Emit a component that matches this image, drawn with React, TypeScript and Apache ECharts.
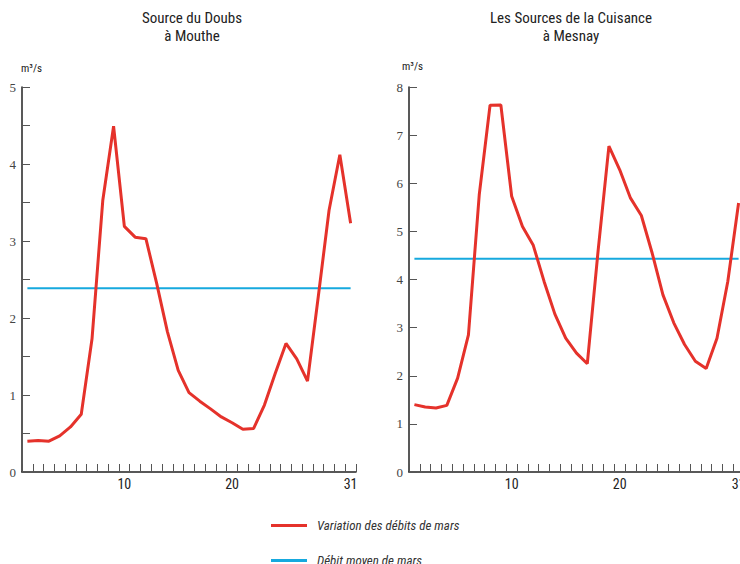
import React, { useEffect, useRef } from 'react';
import * as echarts from 'echarts';

const days = ['1','2','3','4','5','6','7','8','9','10','11','12','13','14','15','16','17','18','19','20','21','22','23','24','25','26','27','28','29','30','31'];
const shownDayLabels = ['10', '20', '31'];
const doubsFlow = [0.40, 0.41, 0.40, 0.47, 0.585, 0.75, 1.73, 3.53, 4.49, 3.19, 3.05, 3.03, 2.45, 1.82, 1.32, 1.03, 0.92, 0.82, 0.715, 0.64, 0.555, 0.565, 0.87, 1.28, 1.67, 1.47, 1.18, 2.28, 3.40, 4.12, 3.23];
const cuisanceFlow = [1.40, 1.35, 1.33, 1.385, 1.95, 2.85, 5.76, 7.62, 7.625, 5.73, 5.10, 4.71, 3.96, 3.28, 2.78, 2.47, 2.25, 4.6, 6.77, 6.28, 5.69, 5.33, 4.55, 3.68, 3.10, 2.65, 2.30, 2.15, 2.78, 3.96, 5.59];
const doubsMean = 2.385;
const cuisanceMean = 4.43;
const titles = ['Source du Doubs\nà Mouthe', 'Les Sources de la Cuisance\nà Mesnay'];
const seriesNames = ['Variation des débits de mars', 'Débit moyen de mars'];
const unitLabel = 'm³/s';

const NARROW = "'Liberation Sans Narrow', 'Roboto Condensed', 'DejaVu Sans Condensed', 'Arial Narrow', sans-serif";
const SERIF = "'Liberation Serif', 'DejaVu Serif', serif";
const RED = '#e5322b';
const BLUE = '#16a9de';

function xAxis(gridIndex: number) {
  return {
    type: 'category',
    gridIndex,
    data: days,
    boundaryGap: true,
    axisLine: { show: true, lineStyle: { color: '#222', width: 1.5 } },
    axisTick: { show: true, inside: true, length: 8, interval: 0, lineStyle: { color: '#555', width: 1 } },
    axisLabel: {
      interval: (_i: number, v: string) => shownDayLabels.includes(v),
      margin: 5,
      fontFamily: NARROW,
      fontSize: 14,
      color: '#222',
      hideOverlap: false,
    },
    splitLine: { show: false },
  };
}

function yAxis(gridIndex: number, max: number, interval: number) {
  return {
    type: 'value',
    gridIndex,
    min: 0,
    max,
    interval,
    axisLine: { show: true, lineStyle: { color: '#222', width: 1.5 } },
    axisTick: { show: true, inside: true, length: 8, lineStyle: { color: '#555', width: 1 } },
    axisLabel: {
      margin: 6,
      fontFamily: SERIF,
      fontSize: 13,
      color: '#444',
      formatter: (v: number) => (Number.isInteger(v) ? String(v) : ''),
    },
    splitLine: { show: false },
  };
}

export default function App() {
  const ref = useRef<HTMLDivElement>(null);
  useEffect(() => {
    if (!ref.current) return;
    const chart = echarts.init(ref.current, undefined, { renderer: 'svg' });
    const titleStyle = { fontFamily: NARROW, fontSize: 15, fontWeight: 'normal', color: '#222', lineHeight: 18, align: 'center' };
    const legendText = { fontFamily: NARROW, fontSize: 13, fontStyle: 'italic', color: '#333', padding: [0, 0, 0, 5] };
    chart.setOption({
      animation: false,
      title: [
        { text: titles[0], left: 192, top: 9, padding: 0, textAlign: 'center', textStyle: titleStyle },
        { text: titles[1], left: 571, top: 9, padding: 0, textAlign: 'center', textStyle: titleStyle },
      ],
      graphic: [
        { type: 'text', left: 21, top: 63, style: { text: unitLabel, font: `11px ${NARROW}`, fill: '#222' } },
        { type: 'text', left: 402, top: 61, style: { text: unitLabel, font: `11px ${NARROW}`, fill: '#222' } },
      ],
      legend: [
        {
          data: [seriesNames[0]], left: 266, top: 514, icon: 'rect', itemWidth: 36, itemHeight: 3,
          textStyle: legendText, selectedMode: false,
        },
        {
          data: [seriesNames[1]], left: 266, top: 549, icon: 'rect', itemWidth: 36, itemHeight: 3,
          textStyle: legendText, selectedMode: false,
          itemStyle: { color: BLUE },
        },
      ],
      grid: [
        { left: 22, top: 87, width: 334, height: 385 },
        { left: 409, top: 87, width: 335, height: 385 },
      ],
      xAxis: [xAxis(0), xAxis(1)],
      yAxis: [yAxis(0, 5, 0.5), yAxis(1, 8, 1)],
      series: [
        {
          name: seriesNames[1], type: 'line', xAxisIndex: 0, yAxisIndex: 0, symbol: 'none',
          data: [[days[0], doubsMean], [days[days.length - 1], doubsMean]],
          lineStyle: { color: BLUE, width: 2 }, itemStyle: { color: BLUE }, z: 2,
        },
        {
          name: seriesNames[0], type: 'line', xAxisIndex: 0, yAxisIndex: 0, symbol: 'none',
          data: doubsFlow,
          lineStyle: { color: RED, width: 3 }, itemStyle: { color: RED }, z: 3,
        },
        {
          name: seriesNames[1], type: 'line', xAxisIndex: 1, yAxisIndex: 1, symbol: 'none',
          data: [[days[0], cuisanceMean], [days[days.length - 1], cuisanceMean]],
          lineStyle: { color: BLUE, width: 2 }, itemStyle: { color: BLUE }, z: 2,
        },
        {
          name: seriesNames[0], type: 'line', xAxisIndex: 1, yAxisIndex: 1, symbol: 'none',
          data: cuisanceFlow,
          lineStyle: { color: RED, width: 3 }, itemStyle: { color: RED }, z: 3,
        },
      ],
    });
    return () => chart.dispose();
  }, []);
  return (
    <div style={{ position: 'fixed', left: 0, top: 0, width: 740, height: 564, overflow: 'hidden', background: '#fff' }}>
      <div ref={ref} style={{ width: 780, height: 600 }} />
    </div>
  );
}
